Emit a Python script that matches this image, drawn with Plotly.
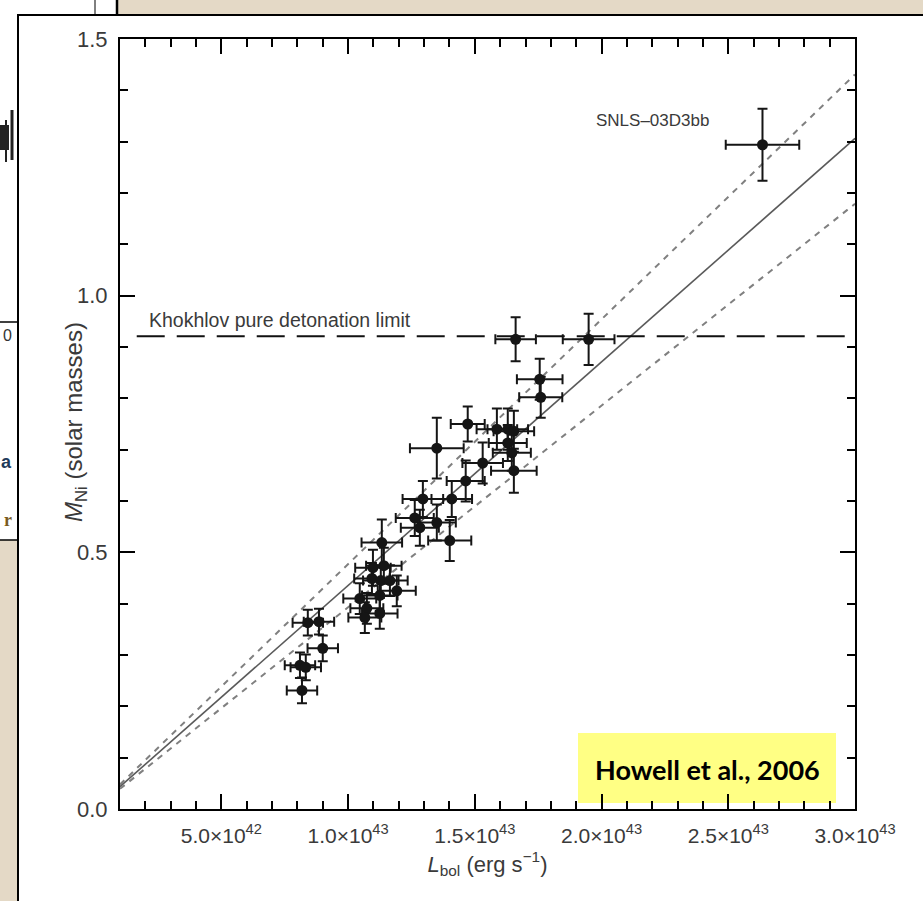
import plotly.graph_objects as go

# Bolometric luminosity (erg/s) and 56Ni mass (solar masses) with uncertainties
L_bol = [2.635e43, 1.661e43, 1.949e43, 1.756e43, 1.760e43, 1.350e43, 1.472e43,
         1.587e43, 1.630e43, 1.654e43, 1.630e43, 1.646e43, 1.531e43, 1.654e43,
         1.464e43, 1.409e43, 1.295e43, 1.263e43, 1.283e43, 1.350e43, 1.401e43,
         1.133e43, 1.098e43, 1.141e43, 1.094e43, 1.129e43, 1.165e43, 1.192e43,
         1.125e43, 1.046e43, 1.074e43, 1.066e43, 1.125e43, 0.841e43, 0.885e43,
         0.900e43, 0.810e43, 0.833e43, 0.818e43]
M_Ni = [1.294, 0.915, 0.915, 0.837, 0.802, 0.703, 0.750,
        0.740, 0.740, 0.736, 0.713, 0.694, 0.674, 0.659,
        0.639, 0.604, 0.604, 0.567, 0.548, 0.558, 0.523,
        0.519, 0.470, 0.474, 0.449, 0.445, 0.445, 0.425,
        0.416, 0.410, 0.391, 0.373, 0.381, 0.363, 0.365,
        0.313, 0.280, 0.276, 0.231]
L_err = [1.45e42, 0.80e42, 1.02e42, 0.90e42, 0.85e42, 1.06e42, 0.67e42,
         0.80e42, 0.80e42, 0.80e42, 0.75e42, 0.75e42, 0.80e42, 0.90e42,
         0.75e42, 0.80e42, 0.80e42, 0.75e42, 0.75e42, 0.75e42, 0.85e42,
         0.80e42, 0.70e42, 0.70e42, 0.70e42, 0.70e42, 0.70e42, 0.75e42,
         0.70e42, 0.65e42, 0.65e42, 0.65e42, 0.70e42, 0.60e42, 0.60e42,
         0.60e42, 0.60e42, 0.60e42, 0.60e42]
M_err = [0.070, 0.043, 0.050, 0.040, 0.040, 0.059, 0.034,
         0.040, 0.040, 0.040, 0.035, 0.035, 0.040, 0.043,
         0.040, 0.035, 0.035, 0.035, 0.035, 0.035, 0.040,
         0.045, 0.035, 0.035, 0.030, 0.030, 0.030, 0.030,
         0.030, 0.030, 0.030, 0.030, 0.030, 0.025, 0.025,
         0.025, 0.025, 0.025, 0.025]

# Linear M_Ni-L_bol relations (solar masses per 1e43 erg/s): fit and bounds
fit_slope = [0.4355]
bound_slopes = [0.477, 0.393]
khokhlov_limit = [0.921]

x_range = [1.0e42, 3.0e43]
y_range = [0.0, 1.5]
x_tickvals = [5.0e42, 1.0e43, 1.5e43, 2.0e43, 2.5e43, 3.0e43]
x_ticktext = ["5.0×10<sup>42</sup>", "1.0×10<sup>43</sup>", "1.5×10<sup>43</sup>",
              "2.0×10<sup>43</sup>", "2.5×10<sup>43</sup>", "3.0×10<sup>43</sup>"]
y_tickvals = [0.0, 0.5, 1.0, 1.5]
y_ticktext = ["0.0", "0.5", "1.0", "1.5"]

W, H = 923, 901
ML, MR, MT, MB = 120, 68, 39, 92
PW, PH = W - ML - MR, H - MT - MB


def px(x):
    return (x - ML) / PW


def py(y):
    return (H - MB - y) / PH


FONT = "Liberation Sans Narrow, Liberation Sans, Arial, sans-serif"
TXT = "#3a3a3a"

fig = go.Figure()

# fit line and bounds
xl = [x_range[0], x_range[1]]
for s in bound_slopes:
    fig.add_trace(go.Scatter(x=xl, y=[v / 1e43 * s for v in xl], mode="lines",
                             line=dict(color="#808080", width=2, dash="6px,6px"),
                             hoverinfo="skip", showlegend=False))
fig.add_trace(go.Scatter(x=xl, y=[v / 1e43 * fit_slope[0] for v in xl], mode="lines",
                         line=dict(color="#5a5a5a", width=1.6),
                         hoverinfo="skip", showlegend=False))

# Khokhlov pure detonation limit
fig.add_trace(go.Scatter(x=[1.66e42, x_range[1]], y=[khokhlov_limit[0]] * 2, mode="lines",
                         line=dict(color="#111111", width=2, dash="28px,12px"),
                         hoverinfo="skip", showlegend=False))

# supernovae
fig.add_trace(go.Scatter(
    x=L_bol, y=M_Ni, mode="markers",
    marker=dict(color="#151515", size=11),
    error_x=dict(type="data", array=L_err, color="#151515", thickness=2, width=5),
    error_y=dict(type="data", array=M_err, color="#151515", thickness=2, width=5),
    showlegend=False))

shapes = [
    # sheet behind on the left
    dict(type="rect", xref="paper", yref="paper", x0=px(-5), x1=px(117), y0=py(540), y1=py(-5),
         fillcolor="white", line=dict(width=0), layer="below"),
    dict(type="line", xref="paper", yref="paper", x0=px(117), x1=px(117), y0=py(0), y1=py(16),
         line=dict(color="black", width=2.5), layer="below"),
    dict(type="line", xref="paper", yref="paper", x0=px(95), x1=px(95), y0=py(0), y1=py(16),
         line=dict(color="black", width=1), layer="below"),
    dict(type="line", xref="paper", yref="paper", x0=px(-5), x1=px(18), y0=py(322), y1=py(322),
         line=dict(color="black", width=1.5), layer="below"),
    dict(type="line", xref="paper", yref="paper", x0=px(-5), x1=px(18), y0=py(540), y1=py(540),
         line=dict(color="black", width=1.5), layer="below"),
    dict(type="rect", xref="paper", yref="paper", x0=px(0), x1=px(9), y0=py(150), y1=py(125),
         fillcolor="#222222", line=dict(width=0), layer="below"),
    dict(type="line", xref="paper", yref="paper", x0=px(12), x1=px(12), y0=py(160), y1=py(110),
         line=dict(color="#222222", width=3), layer="below"),
    dict(type="line", xref="paper", yref="paper", x0=px(6), x1=px(6), y0=py(162), y1=py(120),
         line=dict(color="#222222", width=2), layer="below"),
    # main white panel
    dict(type="rect", xref="paper", yref="paper", x0=px(18), x1=px(930), y0=py(910), y1=py(15),
         fillcolor="white", line=dict(color="black", width=2), layer="below"),
    # citation box
    dict(type="rect", xref="paper", yref="paper", x0=px(578), x1=px(836), y0=py(803), y1=py(733),
         fillcolor="#ffff84", line=dict(width=0), layer="below"),
]

annotations = [
    dict(x=2.2e43, y=1.341, xref="x", yref="y", text="SNLS–03D3bb", showarrow=False,
         font=dict(family=FONT, size=17, color=TXT), xanchor="center", yanchor="middle"),
    dict(x=2.06e42, y=0.952, xref="x", yref="y", text="Khokhlov pure detonation limit",
         showarrow=False, font=dict(family=FONT, size=19.5, color=TXT),
         xanchor="left", yanchor="middle"),
    # y-axis title, placed between the 1.0 and 0.5 tick labels
    dict(x=px(75), y=py(422), xref="paper", yref="paper",
         text="<i>M</i><sub>Ni</sub> (solar masses)", showarrow=False, textangle=-90,
         font=dict(family=FONT, size=24, color=TXT), xanchor="center", yanchor="middle"),
    dict(x=px(707), y=py(769), xref="paper", yref="paper", text="<b>Howell et al., 2006</b>",
         showarrow=False, font=dict(family="Lato, Open Sans, sans-serif", size=27, color="black"),
         xanchor="center", yanchor="middle"),
    dict(x=px(8), y=py(335), xref="paper", yref="paper", text="0", showarrow=False,
         font=dict(family="Liberation Sans", size=16, color="#333"), xanchor="center"),
    dict(x=px(6), y=py(462), xref="paper", yref="paper", text="<b>a</b>", showarrow=False,
         font=dict(family="Liberation Sans", size=18, color="#1f3b5a"), xanchor="center"),
    dict(x=px(8), y=py(520), xref="paper", yref="paper", text="<b>r</b>", showarrow=False,
         font=dict(family="Liberation Serif", size=18, color="#7a5a20"), xanchor="center"),
]

axis_common = dict(showline=True, linecolor="black", linewidth=2, mirror="ticks",
                   ticks="inside", tickcolor="black", tickwidth=1.6, ticklen=15,
                   showgrid=False, zeroline=False)

fig.update_xaxes(range=x_range, tickvals=x_tickvals, ticktext=x_ticktext,
                 tickfont=dict(family=FONT, size=21, color=TXT), ticklabelstandoff=7,
                 minor=dict(ticks="inside", ticklen=8, tickwidth=1.6, tickcolor="black",
                            tick0=0, dtick=1e42),
                 title=dict(text="<i>L</i><sub>bol</sub> (erg s<sup>−1</sup>)", standoff=10,
                            font=dict(family=FONT, size=22, color=TXT)),
                 **axis_common)
fig.update_yaxes(range=y_range, tickvals=y_tickvals, ticktext=y_ticktext,
                 tickfont=dict(family=FONT, size=22, color=TXT), ticklabelstandoff=6,
                 minor=dict(ticks="inside", ticklen=8, tickwidth=1.6, tickcolor="black",
                            tick0=0, dtick=0.1),
                 **axis_common)

fig.update_layout(width=W, height=H, margin=dict(l=ML, r=MR, t=MT, b=MB),
                  paper_bgcolor="#e4d9c6", plot_bgcolor="rgba(0,0,0,0)",
                  shapes=shapes, annotations=annotations, showlegend=False)

fig.write_html("out.html")
